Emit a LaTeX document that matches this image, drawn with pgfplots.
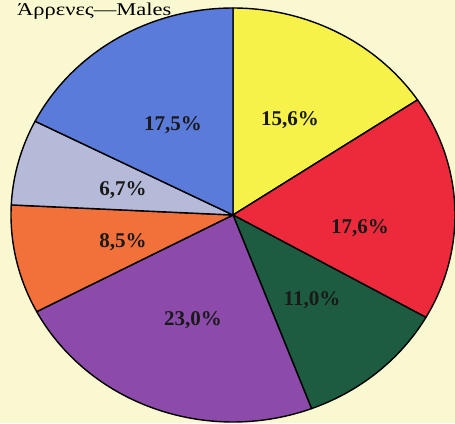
\documentclass[border=0pt]{standalone}
\usepackage{pgfplots}
\pgfplotsset{compat=1.18}
\usepackage{pgfplotstable}
\usepackage{fontspec}
\setmainfont{Liberation Serif}
\usetikzlibrary{backgrounds}

\definecolor{bgc}{HTML}{FAF8D0}
\definecolor{cyellow}{HTML}{F7F24A}
\definecolor{cred}{HTML}{EC2A3C}
\definecolor{cgreen}{HTML}{1D5C40}
\definecolor{cpurple}{HTML}{8C4AAA}
\definecolor{corange}{HTML}{F2703A}
\definecolor{cgray}{HTML}{B6BAD9}
\definecolor{cblue}{HTML}{5B7BDB}

% shares, clockwise from the top
\pgfplotstableread{
value color
15.6 cyellow
17.6 cred
11.0 cgreen
23.0 cpurple
8.5 corange
6.7 cgray
17.5 cblue
}\piedata

\pgfplotstablegetrowsof{\piedata}
\pgfmathtruncatemacro\nrows{\pgfplotsretval-1}
\def\total{0}
\foreach \i in {0,...,\nrows}{%
  \pgfplotstablegetelem{\i}{value}\of\piedata
  \pgfmathsetmacro\tmp{\total+\pgfplotsretval}%
  \xdef\total{\tmp}%
}

\begin{document}
\begin{tikzpicture}[show background rectangle,
  background rectangle/.style={fill=bgc, draw=none}, inner frame sep=0pt]
\begin{axis}[
  scale only axis,
  width=455pt, height=423pt,
  xmin=-233, xmax=222, ymin=-208, ymax=215,
  hide axis,
  clip=true,
]
% frame of the picture
\addplot[draw=none, forget plot] coordinates {(-233,-208) (222,215)};
\def\cum{0}
\pgfplotsforeachungrouped \i in {0,...,\nrows}{%
  \pgfplotstablegetelem{\i}{value}\of\piedata
  \let\val\pgfplotsretval
  \pgfplotstablegetelem{\i}{color}\of\piedata
  \let\col\pgfplotsretval
  \pgfmathsetmacro\sa{\cum/\total*360}%
  \pgfmathsetmacro\cumnew{\cum+\val}%
  \xdef\cum{\cumnew}%
  \pgfmathsetmacro\sb{\cum/\total*360}%
  \edef\temp{\noexpand\addplot[draw=black, line width=1.4pt, line join=round,
      fill=\col, domain=\sa:\sb, samples=80, variable=\noexpand\t]
      ({222*sin(\noexpand\t)},{207*cos(\noexpand\t)}) -- (axis cs:0,0) -- cycle;}%
  \temp
}
\begin{scope}[font=\fontsize{21}{21}\selectfont\bfseries, text=black!90]
\node at (axis cs:-60,90) {17,5\%};
\node at (axis cs:57,95) {15,6\%};
\node at (axis cs:127,-13) {17,6\%};
\node at (axis cs:79,-85) {11,0\%};
\node at (axis cs:-40,-105) {23,0\%};
\node at (axis cs:-110,-27) {8,5\%};
\node at (axis cs:-110,25) {6,7\%};
\end{scope}
\node[anchor=base west, inner sep=0pt, font=\fontsize{18}{18}\selectfont]
  at (axis cs:-216,199) {\scalebox{1.25}[1]{Άρρενες—Males}};
\end{axis}
\end{tikzpicture}
\end{document}
